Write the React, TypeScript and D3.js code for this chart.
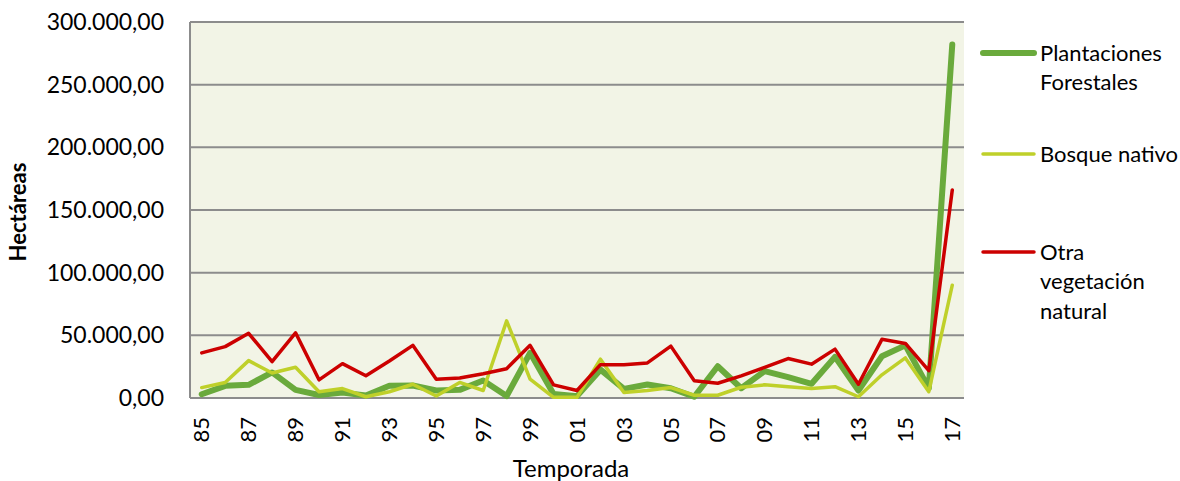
import React, { useEffect, useRef } from "react";
import * as d3 from "d3";

const seasons = [
  "85", "86", "87", "88", "89", "90", "91", "92", "93", "94", "95",
  "96", "97", "98", "99", "00", "01", "02", "03", "04", "05", "06",
  "07", "08", "09", "10", "11", "12", "13", "14", "15", "16", "17",
];

const plantaciones = [
  3000, 9700, 10500, 20400, 6500, 2400, 4300, 2000, 9700, 10000, 6000,
  6500, 14000, 1600, 36000, 3200, 1500, 22600, 7300, 10800, 7800, 1000,
  25300, 7800, 21500, 16700, 11300, 32800, 6000, 33300, 42000, 7800, 282000,
];

const bosqueNativo = [
  8300, 12400, 29800, 20000, 24500, 5000, 7500, 1000, 5000, 11000, 1600,
  12400, 6000, 61500, 15000, 500, 500, 31000, 4300, 6000, 8300, 2200,
  2200, 8600, 10500, 9000, 7500, 9000, 1000, 18500, 32000, 5000, 90000,
];

const otraVegetacion = [
  36000, 41000, 51600, 29000, 52000, 14500, 27400, 17700, 29500, 42000, 15000,
  15900, 19400, 23400, 42000, 10500, 6000, 26600, 26600, 28000, 41400, 13700,
  11800, 17700, 24500, 31500, 27000, 39000, 11000, 46800, 43500, 21800, 166000,
];

const yTicks = [0, 50000, 100000, 150000, 200000, 250000, 300000];

const series = [
  { name: ["Plantaciones", "Forestales"], values: plantaciones, color: "#6AAA3C", width: 6 },
  { name: ["Bosque nativo"], values: bosqueNativo, color: "#BFD02A", width: 3.5 },
  { name: ["Otra", "vegetación", "natural"], values: otraVegetacion, color: "#CC0000", width: 3.5 },
];

const FONT = "Lato, 'Open Sans', sans-serif";

const App: React.FC = () => {
  const ref = useRef<SVGSVGElement>(null);

  useEffect(() => {
    document.body.style.margin = "0";
    if (!ref.current) return;
    const svg = d3.select(ref.current);
    svg.selectAll("*").remove();

    const W = 1180;
    const H = 481;
    const margin = { top: 22, right: 216, bottom: 83, left: 190 };
    const width = W - margin.left - margin.right;
    const height = H - margin.top - margin.bottom;

    svg.attr("width", W).attr("height", H);

    const chart = svg
      .append("g")
      .attr("transform", `translate(${margin.left},${margin.top})`);

    // plot background
    chart
      .append("rect")
      .attr("width", width)
      .attr("height", height)
      .attr("fill", "#F2F4E6");

    const x = d3.scaleBand().domain(seasons).range([0, width]).padding(0);
    const cx = (s: string) => (x(s) ?? 0) + x.bandwidth() / 2;

    const y = d3.scaleLinear().domain([0, 300000]).range([height, 0]);

    // gridlines
    chart
      .append("g")
      .selectAll("line")
      .data(yTicks.slice(1))
      .enter()
      .append("line")
      .attr("x1", 0)
      .attr("x2", width)
      .attr("y1", (d) => y(d))
      .attr("y2", (d) => y(d))
      .attr("stroke", "#8C8C8C")
      .attr("stroke-width", 2);

    // axis lines
    chart
      .append("line")
      .attr("x1", 0)
      .attr("x2", 0)
      .attr("y1", 0)
      .attr("y2", height)
      .attr("stroke", "#8C8C8C")
      .attr("stroke-width", 2);
    chart
      .append("line")
      .attr("x1", 0)
      .attr("x2", width)
      .attr("y1", height)
      .attr("y2", height)
      .attr("stroke", "#8C8C8C")
      .attr("stroke-width", 2);

    // y tick labels
    const fmt = (d: number) =>
      d3.format(",.2f")(d).replace(/,/g, "#").replace(".", ",").replace(/#/g, ".");
    chart
      .append("g")
      .selectAll("text")
      .data(yTicks)
      .enter()
      .append("text")
      .attr("x", -26)
      .attr("y", (d) => y(d))
      .attr("dy", "0.35em")
      .attr("text-anchor", "end")
      .attr("font-family", FONT)
      .attr("font-size", 23)
      .attr("fill", "#000")
      .text((d) => fmt(d));

    // x tick labels (every other season)
    chart
      .append("g")
      .selectAll("text")
      .data(seasons.filter((_, i) => i % 2 === 0))
      .enter()
      .append("text")
      .attr("transform", (d) => `translate(${cx(d)},${height + 19}) rotate(-90)`)
      .attr("dy", "0.35em")
      .attr("text-anchor", "end")
      .attr("font-family", FONT)
      .attr("font-size", 22)
      .attr("fill", "#000")
      .text((d) => d);

    // lines
    const line = d3
      .line<number>()
      .x((_, i) => cx(seasons[i]))
      .y((d) => y(d));

    series.forEach((s) => {
      chart
        .append("path")
        .datum(s.values)
        .attr("fill", "none")
        .attr("stroke", s.color)
        .attr("stroke-width", s.width)
        .attr("stroke-linejoin", "round")
        .attr("stroke-linecap", "round")
        .attr("d", line);
    });

    // axis titles
    svg
      .append("text")
      .attr("transform", `translate(26,${margin.top + height / 2 + 2}) rotate(-90)`)
      .attr("text-anchor", "middle")
      .attr("font-family", FONT)
      .attr("font-size", 22)
      .attr("font-weight", "bold")
      .attr("fill", "#000")
      .text("Hectáreas");

    svg
      .append("text")
      .attr("x", margin.left + width / 2 - 6)
      .attr("y", 477)
      .attr("text-anchor", "middle")
      .attr("font-family", FONT)
      .attr("font-size", 24)
      .attr("fill", "#000")
      .text("Temporada");

    // legend
    const legendY = [53, 154, 252];
    const legend = svg.append("g");
    series.forEach((s, i) => {
      const ly = legendY[i];
      legend
        .append("line")
        .attr("x1", 983)
        .attr("x2", 1034)
        .attr("y1", ly)
        .attr("y2", ly)
        .attr("stroke", s.color)
        .attr("stroke-width", s.width)
        .attr("stroke-linecap", "round");
      s.name.forEach((t, j) => {
        legend
          .append("text")
          .attr("x", 1040)
          .attr("y", ly + j * 29.5)
          .attr("dy", "0.35em")
          .attr("font-family", FONT)
          .attr("font-size", 22)
          .attr("fill", "#000")
          .text(t);
      });
    });
  }, []);

  return <svg ref={ref} style={{ display: "block" }} />;
};

export default App;
